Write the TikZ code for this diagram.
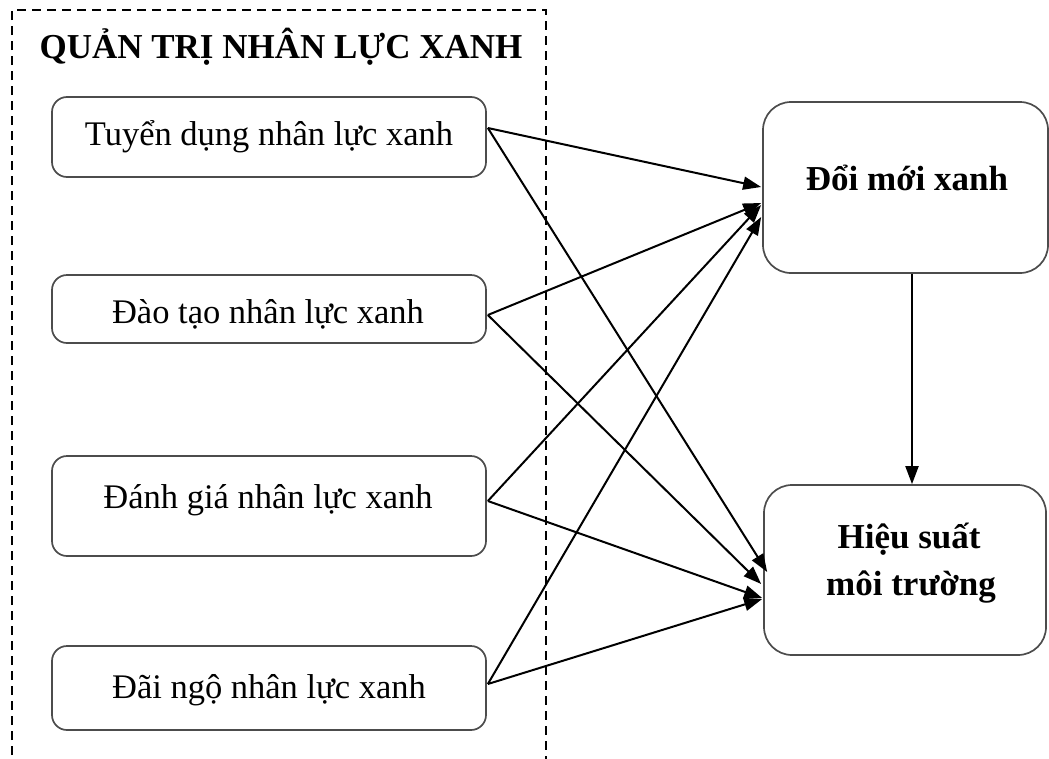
\documentclass[tikz,border=0pt]{standalone}
\usepackage{fontspec}
\setmainfont{Liberation Serif}
\usetikzlibrary{arrows.meta,calc}
\begin{document}
\begin{tikzpicture}[x=1pt,y=-1pt,
  txt/.style={font=\fontsize{34.5}{47}\selectfont, inner sep=0pt, anchor=base},
  btxt/.style={txt, font=\fontsize{35}{47}\selectfont\bfseries},
  practice/.style={draw=black!70, line width=1.7pt, rounded corners=15pt,
    minimum width=434pt, inner sep=0pt},
  outcome/.style={draw=black!70, line width=1.7pt, rounded corners=28pt,
    inner sep=0pt},
  link/.style={draw=black, line width=2pt, -{Triangle[length=18pt,width=13pt]}},
  frame/.style={draw=black, line width=1.6pt, dash pattern=on 9pt off 6pt}
]
\useasboundingbox (0,0) rectangle (1049,758);

% dashed frame around the HRM practices (open at the bottom)
\draw[frame] (12,770) -- (12,10) -- (546,10) -- (546,770);
\node[btxt] (title) at (281,58) {QUẢN TRỊ NHÂN LỰC XANH};

% practice boxes
\node[practice, minimum height=80pt] (b1) at (269,137) {};
\node[practice, minimum height=68pt] (b2) at (269,309) {};
\node[practice, minimum height=100pt] (b3) at (269,506) {};
\node[practice, minimum height=84pt] (b4) at (269,688) {};
\node[txt] (t1) at (269,145) {Tuyển dụng nhân lực xanh};
\node[txt] (t2) at (268,323) {Đào tạo nhân lực xanh};
\node[txt] (t3) at (268,508) {Đánh giá nhân lực xanh};
\node[txt] (t4) at (269,698) {Đãi ngộ nhân lực xanh};

% outcome boxes
\node[outcome, minimum width=285pt, minimum height=171pt] (r1) at (905.5,187.5) {};
\node[outcome, minimum width=282pt, minimum height=170pt] (r2) at (905,570) {};
\node[btxt] (u1) at (907,190) {Đổi mới xanh};
\node[btxt] (u2) at (909,548) {Hiệu suất};
\node[btxt] (u3) at (911,595) {môi trường};

% start points on the practice boxes
\coordinate (s1) at ($(b1.east)+(1,-9)$);
\coordinate (s2) at ($(b2.east)+(1,6)$);
\coordinate (s3) at ($(b3.east)+(1,-5)$);
\coordinate (s4) at ($(b4.east)+(1,-4)$);

% arrows into Đổi mới xanh
\draw[link] (s1) -- ($(r1.west)+(-1,-0.5)$);
\draw[link] (s2) -- ($(r1.west)+(-1,15.5)$);
\draw[link] (s3) -- ($(r1.west)+(-1,17.5)$);
\draw[link] (s4) -- ($(r1.west)+(-1,29.5)$);

% arrows into Hiệu suất môi trường
\draw[link] (s1) -- ($(r2.west)+(4,2)$);
\draw[link] (s2) -- ($(r2.west)+(-2,14)$);
\draw[link] (s3) -- ($(r2.west)+(-1,28)$);
\draw[link] (s4) -- ($(r2.west)+(-1,29)$);

% Đổi mới xanh -> Hiệu suất môi trường
\draw[link] (r1.south -| 912,0) -- (r2.north -| 912,0);
\end{tikzpicture}
\end{document}
